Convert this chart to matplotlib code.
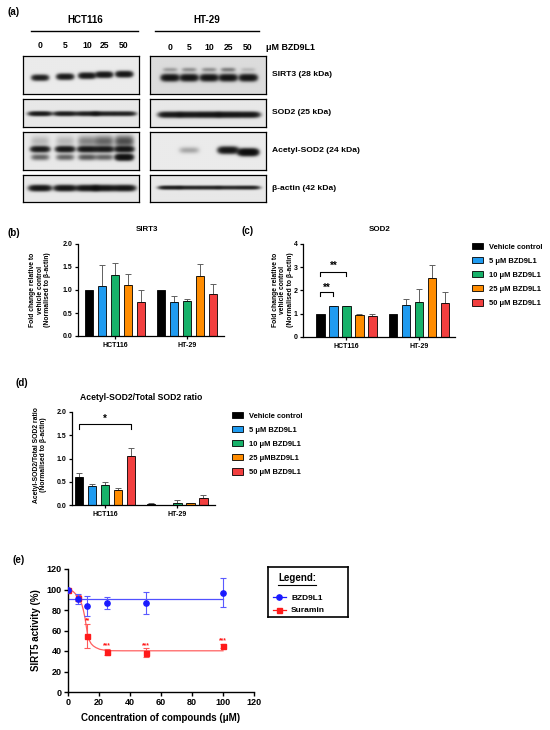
import numpy as np
import matplotlib
matplotlib.use("Agg")
import matplotlib.pyplot as plt
from matplotlib.lines import Line2D
from matplotlib.patches import Patch

plt.rcParams['font.family'] = ['Liberation Sans', 'DejaVu Sans']
plt.rcParams['font.weight'] = 'bold'

W, H = 550, 730

# ---------------- data ----------------
doses = ["0", "5", "10", "25", "50"]
cell_lines = ["HCT116", "HT-29"]
bar_colors = ["#000000", "#1f9bf0", "#17b26a", "#ff8c00", "#f23f3f"]
legend_c = ["Vehicle control", "5 \u03bcM BZD9L1", "10 \u03bcM BZD9L1",
            "25 \u03bcM BZD9L1", "50 \u03bcM BZD9L1"]
legend_d = ["Vehicle control", "5 \u03bcM BZD9L1", "10 \u03bcM BZD9L1",
            "25 \u03bcMBZD9L1", "50 \u03bcM BZD9L1"]

sirt3_mean = [[1.0, 1.08, 1.33, 1.10, 0.73], [1.0, 0.75, 0.76, 1.30, 0.91]]
sirt3_err = [[0.0, 0.47, 0.25, 0.24, 0.27], [0.0, 0.13, 0.04, 0.27, 0.22]]
sod2_mean = [[1.0, 1.32, 1.33, 0.95, 0.90], [1.0, 1.38, 1.50, 2.53, 1.47]]
sod2_err = [[0.0, 0.02, 0.02, 0.04, 0.09], [0.0, 0.27, 0.55, 0.57, 0.46]]
ratio_mean = [[0.61, 0.40, 0.44, 0.32, 1.05], [0.02, 0.005, 0.05, 0.04, 0.15]]
ratio_err = [[0.07, 0.06, 0.05, 0.05, 0.17], [0.02, 0.004, 0.05, 0.01, 0.06]]

# western blot band intensities (0 = none, 1 = strong), per lane
blot_rows = ["SIRT3 (28 kDa)", "SOD2 (25 kDa)", "Acetyl-SOD2 (24 kDa)", "\u03b2-actin (42 kDa)"]
sirt3_hct = [0.8, 0.9, 0.95, 1.0, 1.0]
sirt3_hct_y = [77.5, 76.5, 75.5, 74.5, 74]
sirt3_ht = [1.0, 1.0, 1.0, 1.0, 1.0]
sirt3_ht_upper = [0.12, 0.15, 0.15, 0.2, 0.06]
sod2_hct = [0.9, 0.85, 0.8, 0.75, 0.75]
sod2_ht = [0.9, 0.95, 1.0, 1.0, 0.95]
acsod2_hct = [0.9, 0.95, 0.95, 0.9, 1.0]
acsod2_hct_lower = [0.3, 0.3, 0.35, 0.3, 1.2]
acsod2_hct_smear = [0.08, 0.08, 0.2, 0.3, 0.4]
acsod2_ht = [0.0, 0.12, 0.0, 1.0, 1.4]
actin_hct = [1.0, 1.0, 1.0, 1.0, 1.0]
actin_ht = [0.8, 0.7, 0.7, 0.65, 0.7]

# SIRT5 activity assay
conc = [0, 6.25, 12.5, 25, 50, 100]
bzd_act = [100, 90.4, 83.9, 86.5, 86.8, 97]
bzd_sd = [0, 5, 9.3, 5.7, 11, 14]
bzd_fit = 90.5
sur_act = [100, 92, 54.6, 39, 38.5, 45]
sur_sd = [0, 3, 12, 3, 4, 2]
sur_stars = ["", "", "**", "***", "***", "***"]
sur_fit_x = [0, 2, 3.4, 5, 6.5, 7.7, 9, 9.9, 11, 11.6, 12.5, 13.5, 15, 16.3, 18, 20.6, 24, 27, 35, 50, 100]
sur_fit_y = [100, 99.3, 97.9, 95.5, 92.5, 89.8, 85, 80, 72, 66, 57, 51, 47, 45, 43.3, 41.6, 40.7, 40.3, 40.2, 40.2, 40.2]

fig = plt.figure(figsize=(W / 100, H / 100), dpi=100)


def fbox(x0, y0, x1, y1):
    return [x0 / W, 1 - y1 / H, (x1 - x0) / W, (y1 - y0) / H]


def ftext(x, y, s, **kw):
    kw.setdefault('ha', 'left')
    kw.setdefault('va', 'center')
    kw.setdefault('fontweight', 'bold')
    fig.text(x / W, 1 - y / H, s, **kw)


def fline(x0, x1, y, lw=1.0):
    fig.add_artist(Line2D([x0 / W, x1 / W], [1 - y / H, 1 - y / H], color='black',
                          lw=lw, transform=fig.transFigure))


# ---------------- (a) western blots ----------------
ftext(8, 12, "(a)", fontsize=7)
ftext(85, 20, "HCT116", fontsize=7, ha='center')
ftext(207, 20, "HT-29", fontsize=7, ha='center')
fline(31, 138, 31)
fline(155, 259, 31)

hct_lanes = [40, 65, 87, 104, 124]
ht_lanes = [170, 189, 209, 228, 248]
for xl, d in zip(hct_lanes, doses):
    ftext(xl, 45, d, fontsize=6.2, ha='center')
for xl, d in zip(ht_lanes, doses):
    ftext(xl, 47, d, fontsize=6.2, ha='center')
ftext(266, 47, "\u03bcM BZD9L1", fontsize=6.4)


def blot(x0, x1, y0, y1, lanes, layers, bg=0.91):
    ax = fig.add_axes(fbox(x0, y0, x1, y1))
    xs = np.arange(x0, x1, 0.4)
    ys = np.arange(y0, y1, 0.4)
    X, Y = np.meshgrid(xs, ys)
    dark = np.zeros_like(X)
    for amps, yc, wy, wx in layers:
        ycs = yc if isinstance(yc, list) else [yc] * len(lanes)
        for xc, a, yy in zip(lanes, amps, ycs):
            dark += a * np.exp(-(np.abs(X - xc) / wx) ** 4) * np.exp(-((Y - yy) / wy) ** 2)
    img = bg - (bg - 0.04) * (1 - np.exp(-3.0 * dark))
    ax.imshow(img, cmap='gray', vmin=0, vmax=1, extent=(x0, x1, y1, y0),
              aspect='auto', interpolation='bilinear')
    ax.set_xlim(x0, x1)
    ax.set_ylim(y1, y0)
    ax.set_xticks([])
    ax.set_yticks([])
    for s in ax.spines.values():
        s.set_linewidth(0.9)
    return ax


LX, RX = (23, 139), (150, 266)
row_y = [(56, 94), (99, 127), (132, 170), (175, 202)]
blot(*LX, *row_y[0], hct_lanes, [(sirt3_hct, sirt3_hct_y, 2.6, 8)], bg=0.92)
blot(*RX, *row_y[0], ht_lanes, [(sirt3_ht, 77.5, 3.0, 8.5), (sirt3_ht_upper, 69.5, 2.0, 7)],
     bg=0.86)
blot(*LX, *row_y[1], hct_lanes, [(sod2_hct, 113.5, 2.0, 11)])
blot(*RX, *row_y[1], ht_lanes, [(sod2_ht, 114.5, 2.5, 11)])
blot(*LX, *row_y[2], hct_lanes, [(acsod2_hct, 149, 2.6, 9), (acsod2_hct_lower, 157, 2.8, 8.5),
                                 (acsod2_hct_smear, 141, 5, 9)])
blot(*RX, *row_y[2], ht_lanes, [(acsod2_ht, [150, 150, 150, 150, 152], 3.0, 9.5)], bg=0.92)
blot(*LX, *row_y[3], hct_lanes, [(actin_hct, 188, 2.6, 10.5)])
blot(*RX, *row_y[3], ht_lanes, [(actin_ht, 187.5, 1.7, 11)])

for (y0, y1), name in zip(row_y, blot_rows):
    ftext(272, (y0 + y1) / 2, name, fontsize=6.1)


# ---------------- bar panels ----------------
def bar_panel(box, means, errs, xlim, ylim, yticks, ylabels):
    ax = fig.add_axes(fbox(*box))
    for g in range(len(cell_lines)):
        for j in range(len(doses)):
            x = g + (j - 2) * 0.18
            ax.bar(x, means[g][j], 0.115, color=bar_colors[j], edgecolor='black',
                   linewidth=0.6, zorder=2)
            if errs[g][j] > 0:
                ax.errorbar(x, means[g][j], yerr=[[0], [errs[g][j]]], fmt='none',
                            ecolor='#606060', elinewidth=0.7, capsize=2, capthick=0.7, zorder=1)
    ax.set_xlim(*xlim)
    ax.set_ylim(*ylim)
    ax.set_yticks(yticks)
    ax.set_yticklabels(ylabels, fontsize=5, fontweight='bold')
    ax.set_xticks(range(len(cell_lines)))
    ax.set_xticklabels(cell_lines, fontsize=5, fontweight='bold')
    ax.spines['top'].set_visible(False)
    ax.spines['right'].set_visible(False)
    for s in ('left', 'bottom'):
        ax.spines[s].set_linewidth(0.9)
    ax.tick_params(axis='both', width=0.9, length=2.5, pad=1.5)
    return ax


def bracket(ax, x0, x1, y, drop, label, dy, fs=7):
    ax.plot([x0, x0, x1, x1], [y - drop, y, y, y - drop], color='black', lw=0.8)
    ax.text((x0 + x1) / 2, y + dy, label, ha='center', va='center', fontsize=fs,
            fontweight='bold')


ylab = "Fold change relative to\nvehicle control\n(Normalised to \u03b2-actin)"

# (b) SIRT3
ftext(8, 233, "(b)", fontsize=7)
axb = bar_panel((78, 244, 224, 336), sirt3_mean, sirt3_err, (-0.51, 1.51), (0, 2),
                [0, 0.5, 1.0, 1.5, 2.0], ["0.0", "0.5", "1.0", "1.5", "2.0"])
ftext(147, 230, "SIRT3", fontsize=5.7, ha='center')
ftext(40, 290, ylab, fontsize=4.9, ha='center', rotation=90, linespacing=1.1,
      multialignment='center')

# (c) SOD2
ftext(242, 231, "(c)", fontsize=7)
axc = bar_panel((303, 244, 455, 337), sod2_mean, sod2_err, (-0.6, 1.5), (0, 4),
                [0, 1, 2, 3, 4], ["0", "1", "2", "3", "4"])
ftext(380, 230, "SOD2", fontsize=5.7, ha='center')
ftext(283, 290, ylab, fontsize=4.9, ha='center', rotation=90, linespacing=1.1,
      multialignment='center')
bracket(axc, -0.36, -0.18, 1.93, 0.17, "**", 0.2)
bracket(axc, -0.36, 0.0, 2.8, 0.17, "**", 0.25)
axc.legend(handles=[Patch(facecolor=c, edgecolor='black', linewidth=0.6) for c in bar_colors],
           labels=legend_c, loc='upper left', bbox_to_anchor=(472 / W, 1 - 243 / H),
           bbox_transform=fig.transFigure, frameon=False, fontsize=5.4,
           handlelength=1.5, handleheight=0.9, handletextpad=0.8, labelspacing=0.85,
           borderaxespad=0, borderpad=0)

# (d) acetyl/total ratio
ftext(15, 383, "(d)", fontsize=7)
axd = bar_panel((72, 412, 215, 505), ratio_mean, ratio_err, (-0.455, 1.52), (0, 2),
                [0, 0.5, 1.0, 1.5, 2.0], ["0.0", "0.5", "1.0", "1.5", "2.0"])
ftext(141, 397, "Acetyl-SOD2/Total SOD2 ratio", fontsize=6.2, ha='center')
ftext(40, 455, "Acetyl-SOD2/Total SOD2 ratio\n(Normalised to \u03b2-actin)", fontsize=4.9,
      ha='center', rotation=90, linespacing=1.1, multialignment='center')
bracket(axd, -0.36, 0.36, 1.74, 0.1, "*", 0.12)
axd.legend(handles=[Patch(facecolor=c, edgecolor='black', linewidth=0.6) for c in bar_colors],
           labels=legend_d, loc='upper left', bbox_to_anchor=(232 / W, 1 - 412 / H),
           bbox_transform=fig.transFigure, frameon=False, fontsize=5.4,
           handlelength=1.5, handleheight=0.9, handletextpad=0.8, labelspacing=0.85,
           borderaxespad=0, borderpad=0)

# ---------------- (e) SIRT5 activity ----------------
ftext(12, 560, "(e)", fontsize=7)
axe = fig.add_axes(fbox(68, 569, 254, 692))
blue, red = "#1a1aff", "#ff1a1a"
axe.plot([conc[0], conc[-1]], [bzd_fit, bzd_fit], color="#5050ff", lw=0.9, zorder=1)
axe.plot(sur_fit_x, sur_fit_y, color="#ff6060", lw=0.9, zorder=1)
axe.errorbar(conc, sur_act, yerr=sur_sd, fmt='s', color=red, ms=3.6, ecolor="#ff5a5a",
             elinewidth=0.8, capsize=2, capthick=0.8, zorder=3)
axe.errorbar(conc, bzd_act, yerr=bzd_sd, fmt='o', color=blue, ms=3.8, ecolor="#5a5aff",
             elinewidth=0.8, capsize=2, capthick=0.8, zorder=4)
for x, y, e, s in zip(conc, sur_act, sur_sd, sur_stars):
    if s:
        axe.text(x, y + e + 3, s, color=red, ha='center', va='center', fontsize=4.8,
                 fontweight='bold')
axe.set_xlim(0, 120)
axe.set_ylim(0, 120)
axe.set_xticks(range(0, 121, 20))
axe.set_yticks(range(0, 121, 20))
axe.tick_params(labelsize=6.5, width=1.0, length=3, pad=1.5)
for lab in axe.get_xticklabels() + axe.get_yticklabels():
    lab.set_fontweight('bold')
axe.spines['top'].set_visible(False)
axe.spines['right'].set_visible(False)
for s in ('left', 'bottom'):
    axe.spines[s].set_linewidth(1.0)
ftext(161, 718, "Concentration of compounds (\u03bcM)", fontsize=7, ha='center')
ftext(36, 630, "SIRT5 activity (%)", fontsize=7, ha='center', rotation=90)

# legend box
lax = fig.add_axes(fbox(268, 567, 348, 617))
lax.set_xticks([])
lax.set_yticks([])
lax.set_xlim(0, 1)
lax.set_ylim(0, 1)
for s in lax.spines.values():
    s.set_linewidth(1.2)
lax.text(0.125, 0.78, "Legend:", fontsize=7, fontweight='bold', ha='left', va='center')
lax.plot([0.125, 0.6], [0.64, 0.64], color='black', lw=0.8)
lax.legend(handles=[Line2D([], [], color=blue, marker='o', ms=3.8, lw=0.9),
                    Line2D([], [], color=red, marker='s', ms=3.6, lw=0.9)],
           labels=["BZD9L1", "Suramin"], loc='lower left', bbox_to_anchor=(0.06, 0.05),
           frameon=False, fontsize=6, handlelength=1.6, handletextpad=0.6,
           labelspacing=0.55, borderaxespad=0, borderpad=0)

fig.savefig("out.png", dpi=100)
